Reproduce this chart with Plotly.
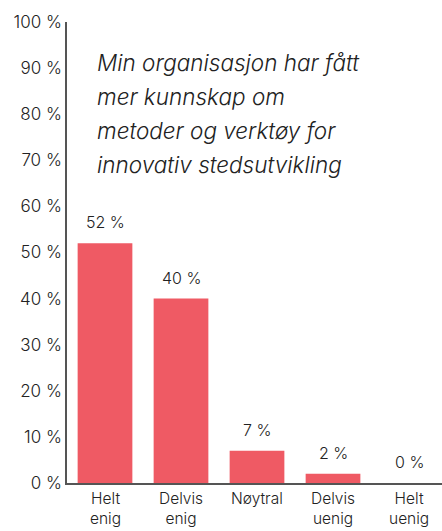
import plotly.graph_objects as go

# Survey answers and share of respondents (%)
categories = ["Helt<br>enig", "Delvis<br>enig", "Nøytral", "Delvis<br>uenig", "Helt<br>uenig"]
shares = [52, 40, 7, 2, 0]
y_ticks = [0, 10, 20, 30, 40, 50, 60, 70, 80, 90, 100]
statement_lines = ["Min organisasjon har fått", "mer kunnskap om",
                   "metoder og verktøy for", "innovativ stedsutvikling"]

BAR = "#EF5A64"
TEXT = "#222222"
FONT = "Inter"
W = 300

fig = go.Figure(go.Bar(
    x=categories, y=shares, marker_color=BAR, marker_line_width=0,
    width=0.72, hoverinfo="skip",
))

# value labels above each bar
for c, v in zip(categories, shares):
    fig.add_annotation(x=c, y=v, text=f"{v} %", showarrow=False,
                       yanchor="middle", yshift=21,
                       font=dict(family=FONT, size=16, color=TEXT, weight=W))

# category labels set close under the axis
for c in categories:
    fig.add_annotation(x=c, y=0, yref="y", text=c, showarrow=False,
                       yanchor="top", yshift=-5, borderpad=0,
                       font=dict(family=FONT, size=15.5, color=TEXT, weight=W))

# statement text block, one annotation per line for wider leading
for i, line in enumerate(statement_lines):
    fig.add_annotation(xref="paper", yref="paper", x=0.074, y=0.912 - i * 0.0735,
                       xanchor="left", yanchor="middle", text=line, showarrow=False,
                       font=dict(family=FONT, size=22.5, color=TEXT,
                                 style="italic", weight=W))

fig.update_layout(
    width=442, height=531,
    margin=dict(l=67, r=0, t=22, b=48),
    paper_bgcolor="white", plot_bgcolor="white",
    showlegend=False,
    font=dict(family=FONT, size=16, color=TEXT, weight=W),
    xaxis=dict(range=[-0.5, 4.434], showgrid=False, showline=True,
               linecolor="#555555", linewidth=2, ticks="", showticklabels=False,
               fixedrange=True),
    yaxis=dict(range=[0, 100], tickvals=y_ticks,
               ticktext=[f"{t} %" for t in y_ticks],
               showgrid=False, zeroline=False, showline=True,
               linecolor="#555555", linewidth=1.5, ticks="",
               tickfont=dict(size=17, weight=W), fixedrange=True),
)

fig.write_html("out.html", config={"displayModeBar": False})
